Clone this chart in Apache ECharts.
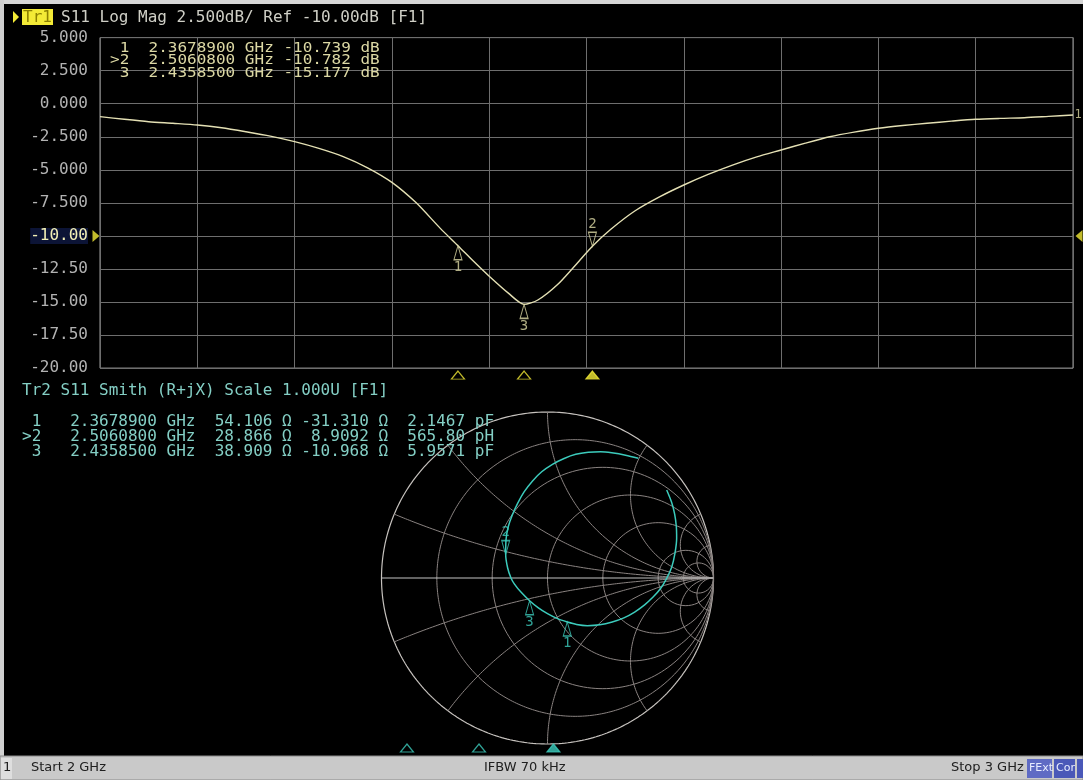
<!DOCTYPE html>
<html><head><meta charset="utf-8">
<script src="https://cdn.jsdelivr.net/npm/echarts@6/dist/echarts.min.js"></script>
<style>html,body{margin:0;padding:0;background:#000;overflow:hidden}#c{width:1083px;height:780px}</style>
</head><body><div id="c"></div>
<script>
// ---------- DATA ----------
const freqGHz = [2.000, 2.025, 2.050, 2.075, 2.100, 2.125, 2.150, 2.175, 2.200, 2.225, 2.250, 2.275, 2.300, 2.325, 2.350, 2.36789, 2.385, 2.400, 2.420, 2.43585, 2.450, 2.470, 2.490, 2.50608, 2.525, 2.550, 2.575, 2.600, 2.625, 2.650, 2.675, 2.700, 2.725, 2.750, 2.775, 2.800, 2.825, 2.850, 2.875, 2.900, 2.925, 2.950, 2.975, 3.000];
const magDb   = [-0.98, -1.18, -1.36, -1.48, -1.61, -1.82, -2.12, -2.45, -2.87, -3.38, -4.00, -4.85, -5.95, -7.50, -9.45, -10.739, -12.00, -13.05, -14.35, -15.177, -14.85, -13.70, -12.10, -10.782, -9.50, -8.10, -7.05, -6.15, -5.35, -4.64, -4.02, -3.50, -2.98, -2.50, -2.15, -1.86, -1.65, -1.48, -1.32, -1.18, -1.11, -1.06, -0.96, -0.86];
const yTickValues = [5, 2.5, 0, -2.5, -5, -7.5, -10, -12.5, -15, -17.5, -20];
const yTickLabels = ['5.000', '2.500', '0.000', '-2.500', '-5.000', '-7.500', '-10.00', '-12.50', '-15.00', '-17.50', '-20.00'];
const markerIds = ['1', '>2', '3'];
const markerNums = ['1', '2', '3'];
const markerFreqGHz = [2.36789, 2.50608, 2.43585];
const markerDb = [-10.739, -10.782, -15.177];
const markerR = [54.106, 28.866, 38.909];
const markerX = [-31.310, 8.9092, -10.968];
const markerEq = [2.1467, 565.80, 5.9571];
const markerEqUnit = ['pF', 'pH', 'pF'];
const markerGammaRe = [0.119, -0.252, -0.108];
const markerGammaIm = [-0.265, 0.141, -0.137];
const smithRe = [0.718, 0.748, 0.766, 0.776, 0.778, 0.768, 0.748, 0.718, 0.680, 0.636, 0.585, 0.525, 0.460, 0.390, 0.315, 0.240, 0.175, 0.119, 0.060, 0.000, -0.055, -0.108, -0.160, -0.200, -0.220, -0.240, -0.252, -0.250, -0.236, -0.212, -0.180, -0.140, -0.090, -0.035, 0.030, 0.100, 0.170, 0.246, 0.320, 0.387, 0.470, 0.547];
const smithIm = [0.530, 0.455, 0.385, 0.310, 0.239, 0.150, 0.065, -0.002, -0.065, -0.115, -0.162, -0.205, -0.240, -0.265, -0.282, -0.287, -0.280, -0.265, -0.245, -0.215, -0.180, -0.137, -0.085, -0.035, 0.000, 0.060, 0.141, 0.230, 0.310, 0.380, 0.450, 0.520, 0.585, 0.640, 0.685, 0.720, 0.745, 0.757, 0.760, 0.754, 0.740, 0.721];
const smithRValues = [0.2, 0.5, 1, 2, 5, 10];
const smithXValues = [0.2, 0.5, 1, 2, 5, 10];
const title1 = 'S11 Log Mag 2.500dB/ Ref -10.00dB [F1]';
const title2 = 'Tr2 S11 Smith (R+jX) Scale 1.000U [F1]';
const statusLeft = 'Start 2 GHz', statusMid = 'IFBW 70 kHz', statusRight = 'Stop 3 GHz';

// ---------- STYLE ----------
const mono = '"DejaVu Sans Mono","Liberation Mono",monospace';
const TR1 = '#e4e0b4', TR1TXT = '#dcd8a4', YEL = '#f3ea36';
const TR2 = '#3ccbbc', TR2TXT = '#84cfc5';
const GRIDC = '#6e6e6e', SMG = '#8a8381';

const chart = echarts.init(document.getElementById('c'));

// Smith chart grid geometry
function rCircle(r){const c=r/(1+r),p=1/(1+r),a=[];for(let i=0;i<=360;i++){const t=2*Math.PI*i/360;a.push([c+p*Math.cos(t),p*Math.sin(t)]);}return a;}
function xArc(x){const a=[];for(let i=0;i<400;i++){const r=Math.tan((Math.PI/2)*i/400);const d=(r+1)*(r+1)+x*x;a.push([(r*r-1+x*x)/d,2*x/d]);}a.push([1,0]);return a;}
function gl(data,color,w){return {type:'line',xAxisIndex:1,yAxisIndex:1,data:data,symbol:'none',silent:true,animation:false,z:1,lineStyle:{color:color,width:w||1},clip:false};}

const series = [];
series.push(gl(rCircle(0),'#c6c2be',1.2));
smithRValues.forEach(r=>series.push(gl(rCircle(r),SMG,1)));
smithXValues.forEach(x=>{series.push(gl(xArc(x),SMG,1));series.push(gl(xArc(-x),SMG,1));});
series.push(gl([[-1,0],[1,0]],'#c4c4c4',1.2));

// top trace
series.push({type:'line',xAxisIndex:0,yAxisIndex:0,data:freqGHz.map((f,i)=>[f,magDb[i]]),symbol:'none',smooth:0.25,lineStyle:{color:TR1,width:1.4},z:3,animation:false});
// trace end id
series.push({type:'scatter',xAxisIndex:0,yAxisIndex:0,data:[{value:[freqGHz[freqGHz.length-1],magDb[magDb.length-1]],name:'1'}],symbol:'rect',symbolSize:[1,1],itemStyle:{color:'transparent'},clip:false,label:{show:true,position:'right',distance:1,formatter:'{b}',color:TR1TXT,fontFamily:mono,fontSize:12},z:4,animation:false});

const upTri='path://M4,0 L8,14 L0,14 Z', dnTri='path://M0,0 L8,0 L4,14 Z';
const rowTri='path://M7,0 L14,8 L0,8 Z';
function markerSeries(xi,yi,pts,color){
  const items=[];
  pts.forEach((p,i)=>{
    const active = markerIds[i].startsWith('>');
    items.push({value:p,name:markerNums[i],symbol:active?dnTri:upTri,symbolOffset:[0,active?-7:7],
      label:{position:active?'top':'bottom'}});
  });
  return {type:'scatter',xAxisIndex:xi,yAxisIndex:yi,data:items,symbolSize:[8,14],clip:false,z:5,animation:false,
    itemStyle:{color:'rgba(0,0,0,0)',borderColor:color,borderWidth:1.2},
    label:{show:true,formatter:'{b}',color:color,fontFamily:mono,fontSize:14,distance:0}};
}
series.push(markerSeries(0,0,markerFreqGHz.map((f,i)=>[f,markerDb[i]]),TR1TXT));
series.push(markerSeries(1,1,markerGammaRe.map((g,i)=>[g,markerGammaIm[i]]),TR2));

function rowSeries(xi,yi,yv,color,off){
  return {type:'scatter',xAxisIndex:xi,yAxisIndex:yi,clip:false,z:5,animation:false,symbol:rowTri,symbolSize:[13,8],
    data:markerFreqGHz.map((f,i)=>{const active=markerIds[i].startsWith('>');
      return {value:[f,yv],symbolOffset:[0,off],itemStyle:{color:active?color:'rgba(0,0,0,0)',borderColor:color,borderWidth:1.2}};})};
}
series.push(rowSeries(0,0,-20,YEL,7));
series.push(rowSeries(2,2,0.5,TR2,0));

// reference level arrows
series.push({type:'scatter',xAxisIndex:0,yAxisIndex:0,clip:false,z:5,animation:false,symbolSize:[7,12],itemStyle:{color:YEL},
  data:[{value:[2,-10],symbol:'path://M0,0 L8,6 L0,12 Z',symbolOffset:[-4,0]},{value:[3,-10],symbol:'path://M8,0 L0,6 L8,12 Z',symbolOffset:[6,0]}]});

// smith trace
series.push({type:'line',xAxisIndex:1,yAxisIndex:1,data:smithRe.map((r,i)=>[r,smithIm[i]]),symbol:'none',smooth:0.3,lineStyle:{color:TR2,width:1.5},z:3,animation:false,clip:false});

// ---------- TEXT ----------
const row1 = markerIds.map((id,i)=>id.padStart(2)+'  '+markerFreqGHz[i].toFixed(7)+' GHz '+markerDb[i].toFixed(3)+' dB');
const row2 = markerIds.map((id,i)=>id.padStart(2)+'   '+markerFreqGHz[i].toFixed(7)+' GHz  '+markerR[i].toPrecision(5)+' \u03A9 '+markerX[i].toPrecision(5).padStart(7)+' \u03A9  '+markerEq[i].toPrecision(5)+' '+markerEqUnit[i]);
function txt(t,x,y,fill,sy){return {type:'text',x:x,y:y,scaleY:sy||1,z:10,style:{text:t,fill:fill,font:'16px '+mono,textVerticalAlign:'middle',verticalAlign:'middle'}};}
const graphics = [
  {type:'rect',shape:{x:0,y:0,width:1083,height:4},style:{fill:'#d6d6d6'},z:20},
  {type:'rect',shape:{x:0,y:0,width:4,height:757},style:{fill:'#cfcfcf'},z:20},
  {type:'polygon',shape:{points:[[13,11],[19,17],[13,23]]},style:{fill:YEL},z:10},
  {type:'rect',shape:{x:22,y:9,width:31,height:16},style:{fill:YEL},z:10},
  txt('Tr1',23,17.5,'#8c8000'),
  txt(title1,61,17.5,'#cfcfc6'),
  txt(title2,22,391,TR2TXT),
  // status bar
  {type:'rect',shape:{x:0,y:756,width:1083,height:24},style:{fill:'#c9c9c9',stroke:'#8a8a8a',lineWidth:1},z:20},
  {type:'rect',shape:{x:1,y:758,width:11,height:21},style:{fill:'#dedede'},z:21},
  {type:'rect',shape:{x:1027,y:759,width:25,height:19},style:{fill:'#5f6bc4'},z:21},
  {type:'rect',shape:{x:1054,y:759,width:21,height:19},style:{fill:'#4a58b8'},z:21},
  {type:'rect',shape:{x:1077,y:759,width:6,height:19},style:{fill:'#4a58b8'},z:21}
];
row1.forEach((s,i)=>graphics.push(txt(s,110,48+i*12.6,TR1TXT,0.86)));
row2.forEach((s,i)=>graphics.push(txt(s,22,422+i*15,TR2TXT)));
const sf = '13px "DejaVu Sans",sans-serif';
[['1',3],[statusLeft,31],[statusMid,484],[statusRight,951]].forEach(a=>
  graphics.push({type:'text',x:a[1],y:768,z:22,style:{text:a[0],fill:'#202020',font:sf,textVerticalAlign:'middle',verticalAlign:'middle'}}));
graphics.push({type:'text',x:1029,y:768,z:22,style:{text:'FExt',fill:'#e8ecff',font:'11px "DejaVu Sans",sans-serif',textVerticalAlign:'middle',verticalAlign:'middle'}});
graphics.push({type:'text',x:1056,y:768,z:22,style:{text:'Cor',fill:'#e8ecff',font:'11px "DejaVu Sans",sans-serif',textVerticalAlign:'middle',verticalAlign:'middle'}});

chart.setOption({
  backgroundColor:'#000',
  animation:false,
  grid:[
    {left:100,top:37.6,width:973,height:330.5,show:true,borderColor:'#9c9c9c',borderWidth:1},
    {left:381.5,top:412,width:332,height:332},
    {left:17,top:740,width:1060,height:16}
  ],
  xAxis:[
    {gridIndex:0,type:'value',min:2,max:3,interval:0.1,axisLabel:{show:false},axisLine:{show:false},axisTick:{show:false},splitLine:{show:true,lineStyle:{color:GRIDC,width:1}}},
    {gridIndex:1,type:'value',min:-1,max:1,show:false},
    {gridIndex:2,type:'value',min:2,max:3,show:false}
  ],
  yAxis:[
    {gridIndex:0,type:'value',min:-20,max:5,interval:2.5,axisLine:{show:false},axisTick:{show:false},
     splitLine:{show:true,lineStyle:{color:GRIDC,width:1}},
     axisLabel:{margin:12,color:'#b2b2b2',fontFamily:mono,fontSize:16,
       formatter:function(v){const i=yTickValues.findIndex(t=>Math.abs(t-v)<1e-6);const s=i<0?'':yTickLabels[i];return Math.abs(v+10)<1e-6?'{ref|'+s+'}':s;},
       rich:{ref:{color:'#f2efb6',fontFamily:mono,fontSize:16,backgroundColor:'#0c1436'}}}},
    {gridIndex:1,type:'value',min:-1,max:1,show:false},
    {gridIndex:2,type:'value',min:0,max:1,show:false}
  ],
  series:series,
  graphic:graphics
});
</script></body></html>
